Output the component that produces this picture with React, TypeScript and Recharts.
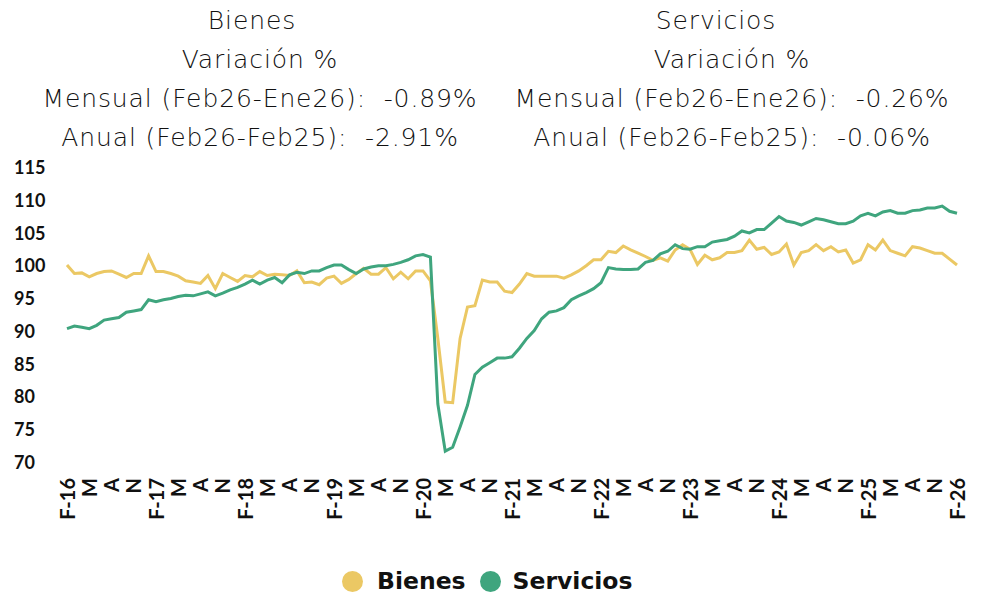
import { LineChart, Line, XAxis, YAxis } from 'recharts'

// monthly index values, Feb-16 .. Feb-26 (121 months)
const START_YEAR = 2016
const bienes = [
  100.2, 98.9, 99.0, 98.4, 98.9, 99.2, 99.3, 98.8, 98.3, 98.9, 98.9, 101.6,
  99.2, 99.2, 98.9, 98.5, 97.8, 97.6, 97.4, 98.6, 96.6, 98.9, 98.3, 97.7,
  98.6, 98.4, 99.2, 98.6, 98.8, 98.7, 98.6, 99.3, 97.5, 97.6, 97.2, 98.2,
  98.5, 97.4, 98.0, 98.9, 99.7, 98.8, 98.8, 99.8, 98.1, 99.1, 98.1, 99.3,
  99.3, 97.8, 89.0, 79.3, 79.2, 89.0, 93.8, 94.0, 97.9, 97.6, 97.6, 96.2,
  96.0, 97.3, 98.9, 98.5, 98.5, 98.5, 98.5, 98.2, 98.7, 99.3, 100.1, 101.0,
  101.0, 102.3, 102.1, 103.1, 102.5, 102.0, 101.5, 100.9, 101.3, 100.8, 102.5, 103.3,
  102.6, 100.3, 101.7, 101.0, 101.3, 102.1, 102.1, 102.4, 104.0, 102.6, 102.9, 101.8,
  102.2, 103.4, 100.2, 102.1, 102.4, 103.3, 102.4, 103.0, 102.2, 102.5, 100.5, 101.0,
  103.3, 102.5, 104.0, 102.4, 102.0, 101.6, 103.0, 102.8, 102.4, 102.0, 102.0, 101.1,
  100.2,
]
const servicios = [
  90.5, 90.9, 90.7, 90.5, 91.0, 91.8, 92.0, 92.2, 93.0, 93.2, 93.4, 94.9,
  94.6, 94.9, 95.1, 95.4, 95.6, 95.5, 95.8, 96.1, 95.5, 95.9, 96.4, 96.8,
  97.3, 97.9, 97.3, 97.9, 98.3, 97.5, 98.7, 99.1, 98.9, 99.3, 99.3, 99.8,
  100.2, 100.2, 99.5, 98.9, 99.6, 99.9, 100.1, 100.1, 100.3, 100.6, 101.0, 101.6,
  101.8, 101.4, 79.0, 71.8, 72.4, 75.5, 78.8, 83.5, 84.6, 85.3, 86.0, 86.0,
  86.2, 87.5, 89.0, 90.2, 92.0, 93.0, 93.2, 93.7, 94.9, 95.5, 96.0, 96.6,
  97.5, 99.8, 99.6, 99.5, 99.5, 99.6, 100.6, 100.9, 101.9, 102.3, 103.3, 102.7,
  102.6, 103.0, 103.0, 103.7, 103.9, 104.1, 104.6, 105.4, 105.1, 105.6, 105.6, 106.6,
  107.6, 106.9, 106.7, 106.3, 106.8, 107.3, 107.1, 106.8, 106.5, 106.5, 106.9, 107.7,
  108.1, 107.7, 108.3, 108.5, 108.1, 108.1, 108.5, 108.6, 108.9, 108.9, 109.2, 108.4,
  108.1,
]
// one label every three months
const tickLabels = [
  'F-16', 'M', 'A', 'N', 'F-17', 'M', 'A', 'N', 'F-18', 'M', 'A', 'N',
  'F-19', 'M', 'A', 'N', 'F-20', 'M', 'A', 'N', 'F-21', 'M', 'A', 'N',
  'F-22', 'M', 'A', 'N', 'F-23', 'M', 'A', 'N', 'F-24', 'M', 'A', 'N',
  'F-25', 'M', 'A', 'N', 'F-26',
]
const yTicks = [70, 75, 80, 85, 90, 95, 100, 105, 110, 115]

const headerLeft = ['Bienes', 'Variación %', 'Mensual (Feb26-Ene26):  -0.89%', 'Anual (Feb26-Feb25):  -2.91%']
const headerRight = ['Servicios', 'Variación %', 'Mensual (Feb26-Ene26):  -0.26%', 'Anual (Feb26-Feb25):  -0.06%']

const YELLOW = '#EBC864'
const GREEN = '#3FA57E'

const months = bienes.map((_, i) => {
  const m = (1 + i) % 12
  const y = START_YEAR + Math.floor((1 + i) / 12)
  return `${y}-${String(m + 1).padStart(2, '0')}`
})
const data = months.map((month, i) => ({ month, bienes: bienes[i], servicios: servicios[i] }))
const tickMonths = tickLabels.map((_, k) => months[k * 3])

function XTick(props: any) {
  const { x, payload } = props
  const k = tickMonths.indexOf(payload.value)
  const bx = x + 7.5
  return (
    <text
      x={bx}
      y={478}
      transform={`rotate(-90, ${bx}, 478)`}
      textAnchor="end"
      fontFamily="Lato, sans-serif"
      fontWeight={700}
      fontSize={20}
      fill="#111"
    >
      {tickLabels[k]}
    </text>
  )
}

function YTick(props: any) {
  const { y, payload } = props
  return (
    <text x={14} y={y} dy={6} textAnchor="start" fontFamily="Lato, sans-serif" fontWeight={700} fontSize={18} fill="#111">
      {payload.value}
    </text>
  )
}

function Header({ lines, center, titleShift }: { lines: string[]; center: number; titleShift: number }) {
  return (
    <div style={{ position: 'absolute', left: center - 280, top: 3, width: 560, textAlign: 'center' }}>
      {lines.map((t, i) => (
        <div
          key={i}
          style={{
            height: 39,
            lineHeight: '36px',
            fontFamily: '"DejaVu Sans", sans-serif',
            fontWeight: 200,
            fontSize: 25,
            letterSpacing: 0.9,
            color: '#111',
            whiteSpace: 'pre',
            transform: i === 0 ? `translateX(${titleShift}px)` : undefined,
          }}
        >
          {t}
        </div>
      ))}
    </div>
  )
}

export default function App() {
  return (
    <div style={{ position: 'absolute', left: 0, top: 0, width: 986, height: 595, background: '#fff' }}>
      <Header lines={headerLeft} center={260} titleShift={-8} />
      <Header lines={headerRight} center={732} titleShift={-16} />
      <div style={{ position: 'absolute', left: 0, top: 0 }}>
        <LineChart width={986} height={595} data={data} margin={{ top: 168, right: 29, left: 0, bottom: 62 }}>
          <XAxis
            dataKey="month"
            ticks={tickMonths}
            interval={0}
            axisLine={false}
            tickLine={false}
            height={70}
            tick={<XTick />}
          />
          <YAxis
            domain={[70, 115]}
            ticks={yTicks}
            interval={0}
            axisLine={false}
            tickLine={false}
            width={67}
            tick={<YTick />}
          />
          <Line type="linear" dataKey="bienes" stroke={YELLOW} strokeWidth={3} dot={false} isAnimationActive={false} />
          <Line type="linear" dataKey="servicios" stroke={GREEN} strokeWidth={3} dot={false} isAnimationActive={false} />
        </LineChart>
      </div>
      <div
        style={{
          position: 'absolute',
          top: 567,
          left: 342,
          display: 'flex',
          alignItems: 'center',
          fontFamily: '"DejaVu Sans", sans-serif',
          fontWeight: 700,
          fontSize: 23.5,
          color: '#111',
        }}
      >
        <span style={{ width: 21, height: 21, borderRadius: '50%', background: YELLOW, marginRight: 14 }} />
        <span style={{ marginRight: 14 }}>Bienes</span>
        <span style={{ width: 21, height: 21, borderRadius: '50%', background: GREEN, marginRight: 12 }} />
        <span>Servicios</span>
      </div>
    </div>
  )
}
